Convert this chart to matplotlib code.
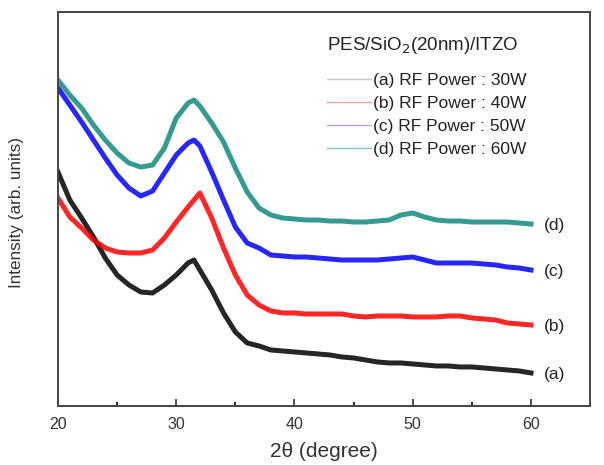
import matplotlib
matplotlib.use("Agg")
import matplotlib.pyplot as plt
from matplotlib.ticker import MultipleLocator
from matplotlib.lines import Line2D

plt.rcParams['font.family'] = ['Liberation Sans', 'DejaVu Sans']

# 2-theta positions (degree)
two_theta = [20, 21, 22, 23, 24, 25, 26, 27, 28, 29, 30, 31, 31.5, 32, 33, 34, 35, 36,
             37, 38, 39, 40, 41, 42, 43, 44, 45, 46, 47, 48, 49, 50, 51, 52, 53, 54,
             55, 56, 57, 58, 59, 60]

# Intensities (arb. units, stacked as in the figure)
int_a_30W = [234, 206, 188, 169, 148, 131, 121, 114, 113, 121, 131, 143, 146, 136, 116, 93,
             74, 63, 60, 56, 55, 54, 53, 52, 51, 49, 48, 46, 44, 43, 43, 42, 41, 40,
             40, 39, 39, 38, 37, 36, 35, 33]
int_b_40W = [208, 189, 178, 166, 158, 154, 153, 153, 156, 168, 184, 199, 206, 213, 188, 158,
             131, 111, 101, 95, 93, 93, 92, 92, 92, 92, 90, 89, 90, 90, 90, 89, 89, 89,
             90, 90, 88, 87, 86, 83, 82, 81]
int_c_50W = [318, 301, 284, 266, 248, 231, 218, 210, 215, 233, 251, 263, 266, 260, 234, 206,
             179, 163, 158, 151, 150, 149, 149, 148, 147, 146, 146, 146, 146, 147, 148, 149,
             146, 143, 143, 143, 143, 142, 141, 139, 138, 136]
int_d_60W = [326, 311, 298, 281, 266, 253, 243, 239, 241, 258, 288, 303, 306, 300, 283, 264,
             238, 214, 198, 191, 188, 187, 186, 186, 185, 185, 184, 184, 185, 186, 191, 193,
             189, 186, 185, 185, 184, 184, 184, 184, 183, 182]

series = [int_a_30W, int_b_40W, int_c_50W, int_d_60W]
legend_title = 'PES/SiO$_2$(20nm)/ITZO'
legend_labels = ['(a) RF Power : 30W', '(b) RF Power : 40W',
                 '(c) RF Power : 50W', '(d) RF Power : 60W']
end_labels = ['(a)', '(b)', '(c)', '(d)']
colors = ['#000000', '#ff0000', '#0000ff', '#11897f']
legend_colors = ['#c8c8c8', '#f3a4a4', '#aaaaee', '#8cc4bc']

fig = plt.figure(figsize=(6.04, 4.65), dpi=100)
ax = fig.add_axes([0.096, 0.127, 0.881, 0.847])

for vals, c in zip(series, colors):
    ax.plot(two_theta, vals, color=c, lw=3.6, alpha=0.85, solid_joinstyle='round')

for vals, lab in zip(series, end_labels):
    ax.annotate(lab, xy=(two_theta[-1], vals[-1]), xytext=(9, -1),
                textcoords='offset points', va='center', ha='left',
                fontsize=12.5, color='#222222')

handles = [Line2D([], [], color=c, lw=1.0) for c in legend_colors]
leg = ax.legend(handles, legend_labels,
                loc='upper left', bbox_to_anchor=(0.506, 0.846), frameon=False,
                fontsize=12.5, handlelength=2.5,
                handletextpad=0.15, labelspacing=0.45,
                borderaxespad=0, borderpad=0)
for t in leg.get_texts():
    t.set_color('#222222')

ax.text(0.506, 0.915, legend_title, transform=ax.transAxes, ha='left', va='center',
        fontsize=13.5, color='#222222')

ax.set_xlim(20, 65)
ax.set_ylim(0, 394)
ax.xaxis.set_minor_locator(MultipleLocator(5))
ax.set_xticks([20, 30, 40, 50, 60])
ax.tick_params(axis='x', which='major', direction='in', length=5, width=1.2,
               labelsize=11.5, colors='#333333', pad=8)
ax.tick_params(axis='x', which='minor', direction='in', length=3, width=1.2)
ax.tick_params(axis='y', left=False, labelleft=False)
for s in ax.spines.values():
    s.set_color('#444444')
    s.set_linewidth(1.4)

ax.set_xlabel('2θ (degree)', fontsize=15, color='#333333', labelpad=7)
ax.set_ylabel('Intensity (arb. units)', fontsize=12.3, color='#333333')
ax.yaxis.set_label_coords(-0.064, 0.49)

fig.savefig('out.png', dpi=100)
